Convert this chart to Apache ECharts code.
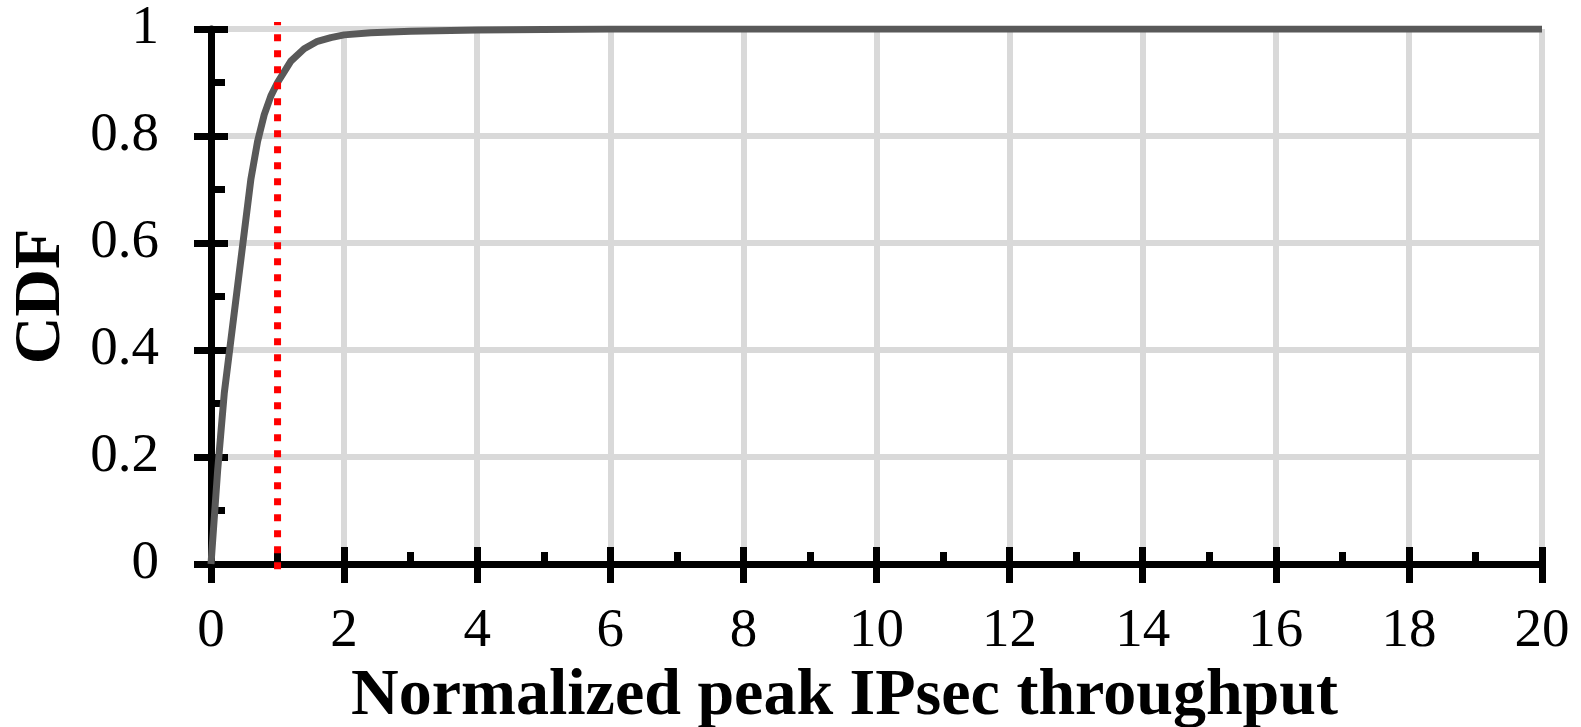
<!DOCTYPE html>
<html>
<head>
<meta charset="utf-8">
<script src="https://cdn.jsdelivr.net/npm/echarts@6/dist/echarts.min.js"></script>
<style>
html,body{margin:0;padding:0;background:#fff;}
#chart{width:1581px;height:727px;}
</style>
</head>
<body>
<div id="chart"></div>
<script>
// Data
const cdfX = [0, 0.1, 0.2, 0.3, 0.4, 0.5, 0.6, 0.7, 0.8, 0.9, 1.0, 1.2, 1.4, 1.6, 1.8, 2.0, 2.4, 3, 4, 5, 6, 8, 10, 12, 14, 16, 18, 20];
const cdfY = [0, 0.175, 0.32, 0.42, 0.52, 0.62, 0.72, 0.79, 0.84, 0.875, 0.9, 0.94, 0.963, 0.977, 0.984, 0.989, 0.993, 0.996, 0.998, 0.999, 1, 1, 1, 1, 1, 1, 1, 1];
const refLineX = [1, 1];
const refLineY = [-0.01, 1.013];
const xTitle = 'Normalized peak IPsec throughput';
const yTitle = 'CDF';

const curve = cdfX.map((x, i) => [x, cdfY[i]]);
const refLine = refLineX.map((x, i) => [x, refLineY[i]]);

const serif = '"Liberation Serif", "Times New Roman", serif';
const black = '#000';

const chart = echarts.init(document.getElementById('chart'), null, {renderer: 'canvas'});
chart.setOption({
  backgroundColor: '#fff',
  animation: false,
  grid: {left: 211, right: 39, top: 29, bottom: 163, containLabel: false, outerBoundsMode: 'none'},
  xAxis: [
    {
      type: 'value', position: 'bottom', min: 0, max: 20, interval: 2,
      axisLine: {show: true, onZero: false, lineStyle: {color: black, width: 7}},
      axisTick: {show: true, inside: false, length: 19, lineStyle: {color: black, width: 7}},
      axisLabel: {show: true, margin: 40, fontFamily: serif, fontSize: 55, color: black},
      splitLine: {show: true, lineStyle: {color: '#d9d9d9', width: 6}},
      name: xTitle, nameLocation: 'middle', nameGap: 87,
      nameTextStyle: {fontFamily: serif, fontSize: 66, fontWeight: 'bold', color: black, padding: [0, 64, 0, 0]}
    },
    {
      type: 'value', position: 'bottom', min: 0, max: 20, interval: 2,
      axisLine: {show: false, onZero: false},
      axisTick: {show: true, inside: true, length: 17, lineStyle: {color: black, width: 7}},
      minorTick: {show: true, splitNumber: 2, length: 12, lineStyle: {color: black, width: 7}},
      axisLabel: {show: false},
      splitLine: {show: false}
    }
  ],
  yAxis: [
    {
      type: 'value', position: 'left', min: 0, max: 1, interval: 0.2,
      axisLine: {show: true, onZero: false, lineStyle: {color: black, width: 7}},
      axisTick: {show: true, inside: false, length: 17, lineStyle: {color: black, width: 7}},
      axisLabel: {show: true, margin: 52, fontFamily: serif, fontSize: 55, color: black},
      splitLine: {show: true, lineStyle: {color: '#d9d9d9', width: 6}},
      name: yTitle, nameLocation: 'middle', nameGap: 136, nameRotate: 90,
      nameTextStyle: {fontFamily: serif, fontSize: 66, fontWeight: 'bold', color: black}
    },
    {
      type: 'value', position: 'left', min: 0, max: 1, interval: 0.2,
      axisLine: {show: false, onZero: false},
      axisTick: {show: true, inside: true, length: 17, lineStyle: {color: black, width: 7}},
      minorTick: {show: true, splitNumber: 2, length: 14, lineStyle: {color: black, width: 7}},
      axisLabel: {show: false},
      splitLine: {show: false}
    }
  ],
  series: [
    {
      type: 'line', xAxisIndex: 0, yAxisIndex: 0, data: curve,
      showSymbol: false, symbol: 'none',
      lineStyle: {color: '#595959', width: 7, join: 'round'}
    },
    {
      type: 'line', xAxisIndex: 0, yAxisIndex: 0, data: refLine,
      showSymbol: false, symbol: 'none', clip: false,
      lineStyle: {color: '#ff0000', width: 7, type: [7, 9], cap: 'butt'}
    }
  ]
});
</script>
</body>
</html>
